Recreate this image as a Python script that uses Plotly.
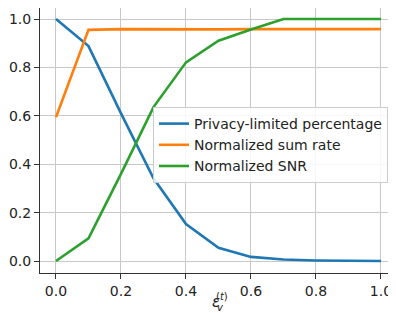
import plotly.graph_objects as go

eps = [0.0, 0.1, 0.2, 0.3, 0.4, 0.5, 0.6, 0.7, 0.8, 0.9, 1.0]
privacy_pct = [1.0, 0.888, 0.61, 0.342, 0.153, 0.055, 0.017, 0.006, 0.002, 0.001, 0.0]
norm_sum_rate = [0.594, 0.955, 0.958, 0.957, 0.957, 0.957, 0.958, 0.958, 0.961, 0.960, 0.958]
norm_snr = [0.0, 0.094, 0.36, 0.636, 0.821, 0.910, 0.957, 1.0, 1.0, 1.0, 1.0]

series = [
    ("Privacy-limited percentage", privacy_pct, "#1f77b4"),
    ("Normalized sum rate", norm_sum_rate, "#ff7f0e"),
    ("Normalized SNR", norm_snr, "#2ca02c"),
]

# the page body adds an 8px offset; figure covers page x 8..396, y 8..313
OFF = 8
W, H = 396 - OFF, 313 - OFF
L, R, T, B = 40 - OFF, 0, 0, 313 - 273
pw, ph = W - L - R, H - T - B

def px2paper(x, y):
    # page pixel -> paper coords
    fx, fy = x - OFF, y - OFF
    return (fx - L) / pw, (H - B - fy) / ph

fig = go.Figure()
for name, vals, col in series:
    fig.add_trace(go.Scatter(x=eps, y=vals, name=name, mode="lines",
                             line=dict(color=col, width=2.6)))

font = dict(family="DejaVu Sans", size=14, color="#222222")
axis_common = dict(showgrid=True, gridcolor="#c8c8c8", gridwidth=1,
                   showline=True, linecolor="#333333", linewidth=1,
                   ticks="outside", ticklen=5, tickwidth=1, tickcolor="#333333",
                   zeroline=False, tickfont=font, automargin=False)
fig.update_xaxes(range=[-0.0492, 1.0462], tickvals=[0, 0.2, 0.4, 0.6, 0.8, 1.0],
                 ticktext=["0.0", "0.2", "0.4", "0.6", "0.8", "1.0"], mirror=True,
                 **axis_common)
fig.update_yaxes(range=[-0.0496, 1.0455], tickvals=[0, 0.2, 0.4, 0.6, 0.8, 1.0],
                 ticktext=["0.0", "0.2", "0.4", "0.6", "0.8", "1.0"], mirror=False,
                 **axis_common)

lx, ly = px2paper(153, 107)
fig.update_layout(
    width=W, height=H, margin=dict(l=L, r=R, t=T, b=B, pad=0, autoexpand=False),
    plot_bgcolor="white", paper_bgcolor="white", font=font,
    showlegend=True,
    legend=dict(x=lx, y=ly, xanchor="left", yanchor="top",
                bgcolor="rgba(255,255,255,0.85)", bordercolor="#cccccc", borderwidth=1,
                font=font, itemwidth=30),
)

# x-axis label epsilon_v^(t) built from stacked text pieces
ex, ey = px2paper(216, 302)
sx, sy = px2paper(222.5, 296)
bx, by = px2paper(220.5, 307)
anno = dict(xref="paper", yref="paper", showarrow=False, xanchor="center", yanchor="middle")
fig.add_annotation(x=ex, y=ey, text="<i>ε</i>",
                   font=dict(family="DejaVu Sans", size=15, color="#222222"), **anno)
fig.add_annotation(x=sx, y=sy, text="(<i>t</i>)",
                   font=dict(family="DejaVu Sans", size=10, color="#222222"), **anno)
fig.add_annotation(x=bx, y=by, text="<i>v</i>",
                   font=dict(family="DejaVu Sans", size=10, color="#222222"), **anno)

fig.write_html("out.html")
